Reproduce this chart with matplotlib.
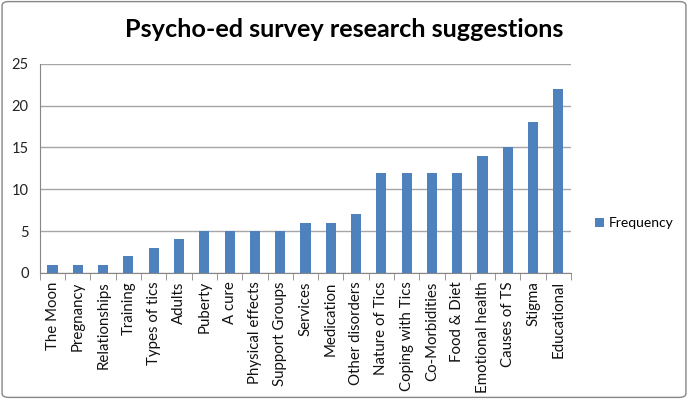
import matplotlib
matplotlib.use("Agg")
import matplotlib.pyplot as plt
from matplotlib.patches import FancyBboxPatch
import numpy as np

categories = ["The Moon", "Pregnancy", "Relationships", "Training", "Types of tics",
              "Adults", "Puberty", "A cure", "Physical effects", "Support Groups",
              "Services", "Medication", "Other disorders", "Nature of Tics",
              "Coping with Tics", "Co-Morbidities", "Food & Diet", "Emotional health",
              "Causes of TS", "Stigma", "Educational"]
frequency = [1, 1, 1, 2, 3, 4, 5, 5, 5, 5, 6, 6, 7, 12, 12, 12, 12, 14, 15, 18, 22]
yticks = [0, 5, 10, 15, 20, 25]
title = "Psycho-ed survey research suggestions"
series_name = "Frequency"

plt.rcParams['font.family'] = ['Lato', 'DejaVu Sans']

fig = plt.figure(figsize=(6.88, 3.99), dpi=100)
border = FancyBboxPatch((0.003, 0.004), 0.994, 0.992, boxstyle="round,pad=0,rounding_size=0.01",
                        transform=fig.transFigure, facecolor="white", edgecolor="#868686",
                        linewidth=1.0, zorder=-10)
fig.patches.append(border)

ax = fig.add_axes([0.058, 0.316, 0.772, 0.524])
x = np.arange(len(categories))
ax.bar(x, frequency, width=0.4, color="#4F81BD", label=series_name, zorder=3)
ax.set_xlim(-0.5, len(categories) - 0.5)
ax.set_ylim(0, 25)
ax.set_yticks(yticks)
ax.set_yticklabels([str(v) for v in yticks], fontsize=10.5, color="#222222")
ax.yaxis.grid(True, color="#A6A6A6", linewidth=1.0, zorder=0)
ax.tick_params(axis="y", length=0, pad=8)

ax.set_xticks(x)
ax.set_xticklabels(categories, rotation=90, fontsize=10.8, color="#111111")
ax.set_xticks(np.arange(-0.5, len(categories), 1), minor=True)
ax.tick_params(axis="x", which="major", length=0, pad=6)
ax.tick_params(axis="x", which="minor", length=5, color="#868686", direction="out")

for s in ["top", "right"]:
    ax.spines[s].set_visible(False)
ax.spines["left"].set_color("#868686")
ax.spines["bottom"].set_color("#868686")

fig.text(0.5, 0.925, title, ha="center", va="center", fontsize=18.2, fontweight="bold", color="black")

fig.legend(loc="center left", bbox_to_anchor=(0.846, 0.44), frameon=False, fontsize=10,
           handlelength=0.7, handleheight=0.7, handletextpad=0.3)

fig.savefig("out.png", dpi=100)
